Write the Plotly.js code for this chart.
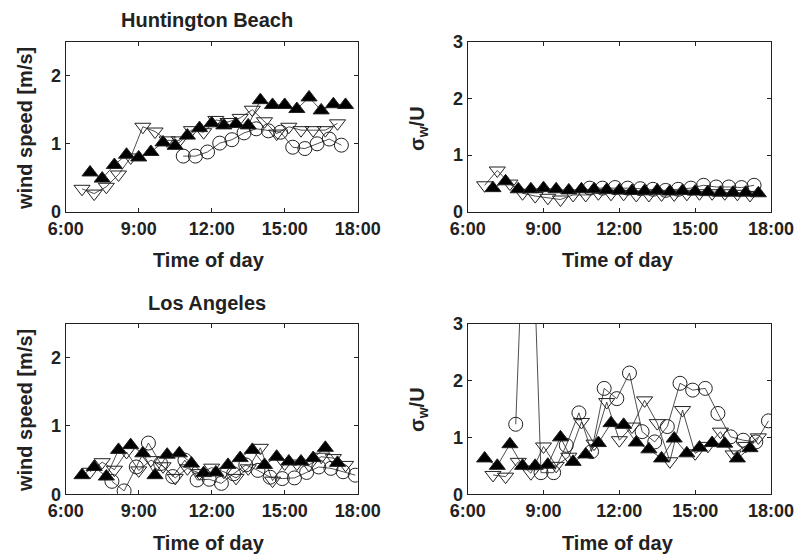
<!DOCTYPE html>
<html><head><meta charset="utf-8">
<script src="https://cdn.plot.ly/plotly-3.0.1.min.js"></script>
<style>html,body{margin:0;padding:0;background:#fff}</style>
</head><body><div id="chart" style="width:798px;height:559px"></div>
<script>
// ---------- tick labels and titles ----------
const timeTickVals = [6, 9, 12, 15, 18];
const timeTickText = ["6:00", "9:00", "12:00", "15:00", "18:00"];
const panelTitles = ["Huntington Beach", "Los Angeles"];
const xTitle = "Time of day";
const windTitle = "wind speed [m/s]";
const sigmaTitle = "σ<sub>w</sub>/U";

// ---------- Huntington Beach ----------
const hbTriUpTime = [7.0, 7.5, 8.0, 8.5, 9.0, 9.5, 10.0, 10.5, 11.0, 11.5, 12.0, 12.5, 13.0, 13.5, 14.0, 14.5, 15.0, 15.5, 16.0, 16.5, 17.0, 17.5];
const hbTriUpWind = [0.58, 0.49, 0.69, 0.84, 0.80, 0.88, 1.02, 0.97, 1.12, 1.23, 1.30, 1.27, 1.29, 1.27, 1.64, 1.57, 1.57, 1.51, 1.68, 1.49, 1.58, 1.57];
const hbTriUpSigma = [0.42, 0.54, 0.40, 0.40, 0.42, 0.40, 0.38, 0.40, 0.40, 0.39, 0.38, 0.37, 0.37, 0.38, 0.36, 0.37, 0.36, 0.35, 0.34, 0.34, 0.34, 0.33];

const hbTriDnTime = [6.67, 7.17, 7.67, 8.17, 8.67, 9.17, 9.67, 10.17, 10.67, 11.17, 11.67, 12.17, 12.67, 13.17, 13.67, 14.17, 14.67, 15.17, 15.67, 16.17, 16.67, 17.17];
const hbTriDnWind = [0.34, 0.27, 0.37, 0.55, 0.80, 1.25, 1.18, 1.05, 1.05, 1.20, 1.17, 1.35, 1.32, 1.38, 1.50, 1.33, 1.15, 1.25, 1.20, 1.20, 1.20, 1.30];
const hbTriDnSigma = [0.47, 0.73, 0.50, 0.33, 0.28, 0.25, 0.22, 0.30, 0.30, 0.33, 0.32, 0.32, 0.30, 0.30, 0.31, 0.31, 0.32, 0.33, 0.33, 0.33, 0.32, 0.30];

const hbCircTime = [10.83, 11.33, 11.83, 12.33, 12.83, 13.33, 13.83, 14.33, 14.83, 15.33, 15.83, 16.33, 16.83, 17.33];
const hbCircWind = [0.82, 0.82, 0.88, 1.01, 1.06, 1.16, 1.22, 1.19, 1.17, 0.95, 0.93, 1.00, 1.07, 0.98];
const hbCircSigma = [0.42, 0.42, 0.43, 0.42, 0.41, 0.40, 0.38, 0.40, 0.42, 0.47, 0.44, 0.44, 0.43, 0.47];

// ---------- Los Angeles ----------
const laTriUpTime = [6.67, 7.17, 7.67, 8.17, 8.67, 9.17, 9.67, 10.17, 10.67, 11.17, 11.67, 12.17, 12.67, 13.17, 13.67, 14.17, 14.67, 15.17, 15.67, 16.17, 16.67, 17.17];
const laTriUpWind = [0.28, 0.40, 0.26, 0.65, 0.72, 0.60, 0.28, 0.58, 0.60, 0.45, 0.31, 0.32, 0.43, 0.53, 0.65, 0.43, 0.55, 0.48, 0.48, 0.53, 0.68, 0.46];
const laTriUpSigma = [0.63, 0.50, 0.88, 0.50, 0.50, 0.52, 1.00, 0.57, 0.70, 0.90, 1.25, 1.22, 0.91, 0.79, 0.63, 0.98, 0.72, 0.82, 0.90, 0.89, 0.63, 0.81];

const laTriDnTime = [7.0, 7.5, 8.0, 8.5, 9.0, 9.5, 10.0, 10.5, 11.0, 11.5, 12.0, 12.5, 13.0, 13.5, 14.0, 14.5, 15.0, 15.5, 16.0, 16.5, 17.0, 17.5];
const laTriDnWind = [0.33, 0.47, 0.36, 0.62, 0.35, 0.50, 0.41, 0.24, 0.38, 0.31, 0.39, 0.33, 0.24, 0.38, 0.68, 0.20, 0.45, 0.45, 0.43, 0.55, 0.53, 0.43];
const laTriDnSigma = [0.34, 0.31, 0.57, 0.37, 0.84, 0.50, 0.66, 1.27, 0.89, 1.62, 0.95, 1.19, 1.65, 1.25, 0.58, 1.48, 0.72, 0.85, 1.10, 0.70, 0.85, 1.00];

const laCircTime = [7.9, 8.4, 8.9, 9.4, 9.9, 10.4, 10.9, 11.4, 11.9, 12.4, 12.9, 13.4, 13.9, 14.4, 14.9, 15.4, 15.9, 16.4, 16.9, 17.4, 17.9];
const laCircWind = [0.19, 0.05, 0.40, 0.75, 0.45, 0.26, 0.50, 0.21, 0.22, 0.16, 0.30, 0.43, 0.35, 0.25, 0.23, 0.24, 0.32, 0.40, 0.38, 0.33, 0.28];
const laCircSigma = [1.23, 7.0, 0.38, 0.38, 0.86, 1.43, 0.75, 1.86, 1.68, 2.13, 1.10, 0.92, 1.19, 1.95, 1.83, 1.86, 1.42, 1.01, 0.95, 0.92, 1.29];

// ---------- styling ----------
const FONT = "'Liberation Sans', Arial, Helvetica, sans-serif";
const INK = '#222';
const W = 798, H = 559;

function tr(x, y, kind, xa, ya) {
  const m = {size: 14, line: {color: INK, width: 1}};
  if (kind === 'up') { m.symbol = 'triangle-up'; m.color = '#000'; }
  else if (kind === 'down') { m.symbol = 'triangle-down-open'; m.color = INK; }
  else { m.symbol = 'circle-open'; m.color = INK; }
  return {x: x, y: y, xaxis: xa, yaxis: ya, type: 'scatter', mode: 'lines+markers',
          line: {color: INK, width: 0.8}, marker: m, showlegend: false, hoverinfo: 'x+y'};
}

const data = [
  tr(hbCircTime, hbCircWind, 'circ', 'x', 'y'),
  tr(hbTriDnTime, hbTriDnWind, 'down', 'x', 'y'),
  tr(hbTriUpTime, hbTriUpWind, 'up', 'x', 'y'),
  tr(hbCircTime, hbCircSigma, 'circ', 'x2', 'y2'),
  tr(hbTriDnTime, hbTriDnSigma, 'down', 'x2', 'y2'),
  tr(hbTriUpTime, hbTriUpSigma, 'up', 'x2', 'y2'),
  tr(laCircTime, laCircWind, 'circ', 'x3', 'y3'),
  tr(laTriDnTime, laTriDnWind, 'down', 'x3', 'y3'),
  tr(laTriUpTime, laTriUpWind, 'up', 'x3', 'y3'),
  tr(laCircTime, laCircSigma, 'circ', 'x4', 'y4'),
  tr(laTriDnTime, laTriDnSigma, 'down', 'x4', 'y4'),
  tr(laTriUpTime, laTriUpSigma, 'up', 'x4', 'y4')
];

const tickFont = {family: FONT, size: 18, color: INK, weight: 'bold'};
const titleFont = {family: FONT, size: 20, color: INK, weight: 'bold'};

function xax(dom, anchor) {
  return {domain: dom, anchor: anchor, range: [6, 18], tickmode: 'array', tickvals: timeTickVals, ticktext: timeTickText,
          ticks: 'inside', ticklen: 4, tickcolor: INK, showline: true, linecolor: INK, linewidth: 1, mirror: 'ticks',
          showgrid: false, zeroline: false, tickfont: tickFont, automargin: false};
}
function yax(dom, anchor, top) {
  const vals = top > 2.6 ? [0, 1, 2, 3] : [0, 1, 2];
  return {domain: dom, anchor: anchor, range: [0, top], tickmode: 'array', tickvals: vals,
          ticks: 'inside', ticklen: 4, tickcolor: INK, showline: true, linecolor: INK, linewidth: 1, mirror: 'ticks',
          showgrid: false, zeroline: false, tickfont: tickFont, automargin: false};
}

const xL = [65.7 / W, 357.7 / W];
const xR = [467.7 / W, 771 / W];
const yT = [1 - 212 / H, 1 - 41.5 / H];
const yB = [1 - 494.3 / H, 1 - 323.5 / H];

function label(text, px, py, angle) {
  return {text: text, xref: 'paper', yref: 'paper', x: px / W, y: 1 - py / H, xanchor: 'center', yanchor: 'middle',
          showarrow: false, font: titleFont, textangle: angle || 0};
}

const layout = {
  width: W, height: H, margin: {l: 0, r: 0, t: 0, b: 0},
  paper_bgcolor: '#fff', plot_bgcolor: '#fff',
  font: {family: FONT, color: INK},
  xaxis: xax(xL, 'y'), yaxis: yax(yT, 'x', 2.5),
  xaxis2: xax(xR, 'y2'), yaxis2: yax(yT, 'x2', 3),
  xaxis3: xax(xL, 'y3'), yaxis3: yax(yB, 'x3', 2.5),
  xaxis4: xax(xR, 'y4'), yaxis4: yax(yB, 'x4', 3),
  annotations: [
    label(panelTitles[0], 207, 20),
    label(panelTitles[1], 207, 303),
    label(xTitle, 209, 260), label(xTitle, 618, 260),
    label(xTitle, 209, 543), label(xTitle, 618, 543),
    label(windTitle, 25, 129, -90), label(windTitle, 25, 411, -90),
    label(sigmaTitle, 418, 129, -90), label(sigmaTitle, 418, 410, -90)
  ]
};

Plotly.newPlot('chart', data, layout, {displayModeBar: false, staticPlot: true});
</script></body></html>
